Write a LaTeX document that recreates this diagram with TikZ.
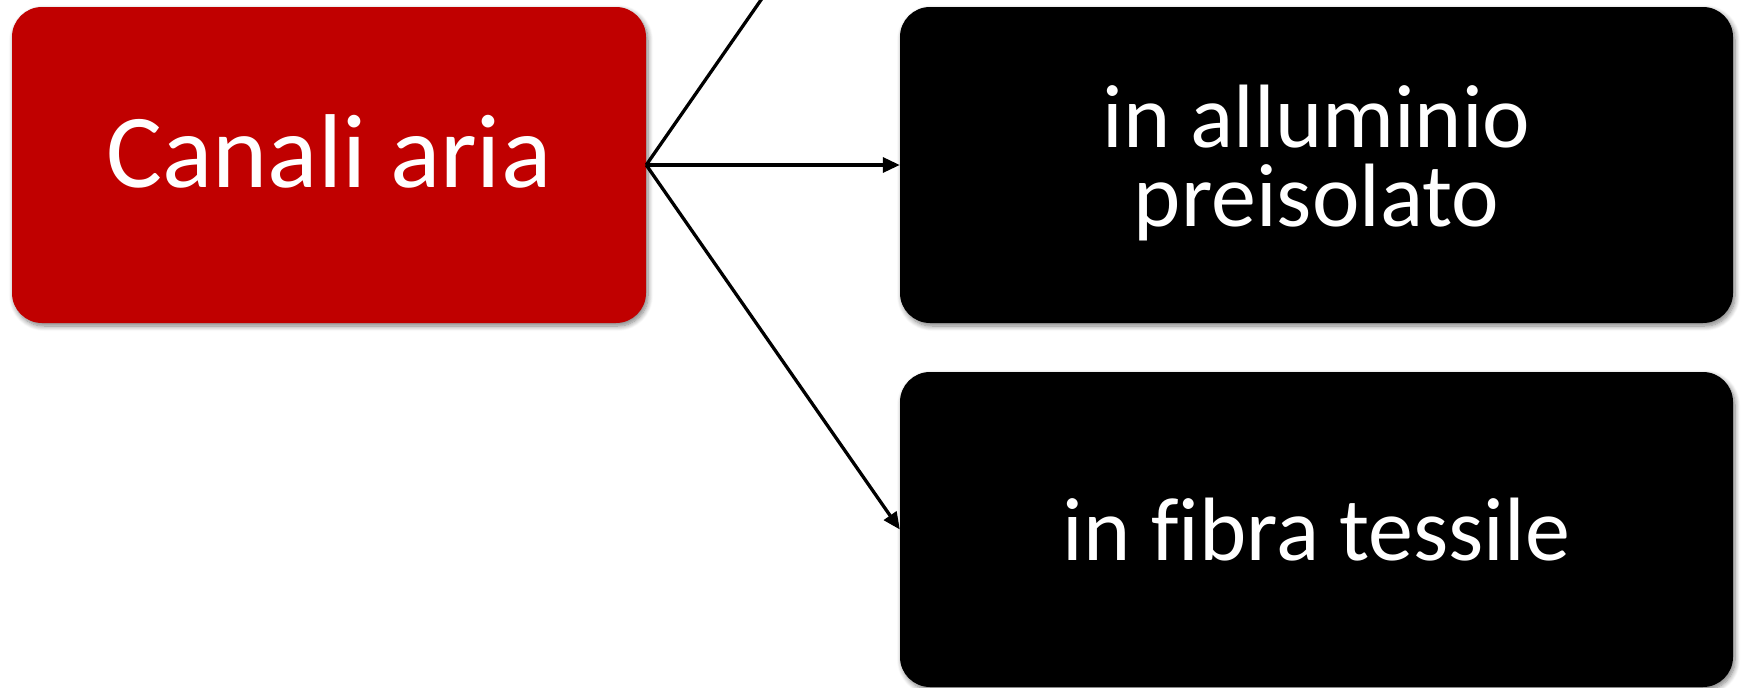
\documentclass[tikz,border=0pt]{standalone}
\usepackage{fontspec}
\setmainfont{Carlito}[Ligatures=NoCommon]
\usetikzlibrary{arrows.meta,shadows.blur}
\definecolor{boxred}{HTML}{C00000}
\tikzset{
  panel/.style={rounded corners=30pt, inner sep=0pt, text=white,
    blur shadow={shadow xshift=2pt, shadow yshift=-3pt, shadow blur radius=5pt,
      shadow blur steps=8, shadow opacity=50}},
  rootbox/.style={panel, fill=boxred, minimum width=634pt, minimum height=316pt,
    font=\fontsize{105}{110}\selectfont, text height=66pt, text depth=22pt},
  leafbox/.style={panel, fill=black, minimum width=833pt,
    font=\fontsize{90}{79}\selectfont},
  link/.style={line width=3.3pt, -{Triangle[length=17pt, width=15pt]}}
}
\begin{document}
\begin{tikzpicture}[x=1pt, y=1pt]
  \useasboundingbox (0,0) rectangle (1741,-688);
  \clip (0,0) rectangle (1741,-688);
  % source box
  \node[rootbox] (root) at (329,-165) {Canali aria};
  % target boxes
  \node[leafbox, minimum height=316pt, align=center, text height=144pt, text depth=22pt]
    (alu) at (1316.5,-165) {in alluminio\\preisolato};
  \node[leafbox, minimum height=315pt, text height=76pt, text depth=15pt]
    (fib) at (1316.5,-529.5) {in fibra tessile};
  % branch leading to the box above the page
  \coordinate (up) at (900,200);
  % connectors
  \draw[link] (root.east) -- (up);
  \draw[link] (root.east) -- (alu.west);
  \draw[link] (root.east) -- (fib.west);
\end{tikzpicture}
\end{document}
